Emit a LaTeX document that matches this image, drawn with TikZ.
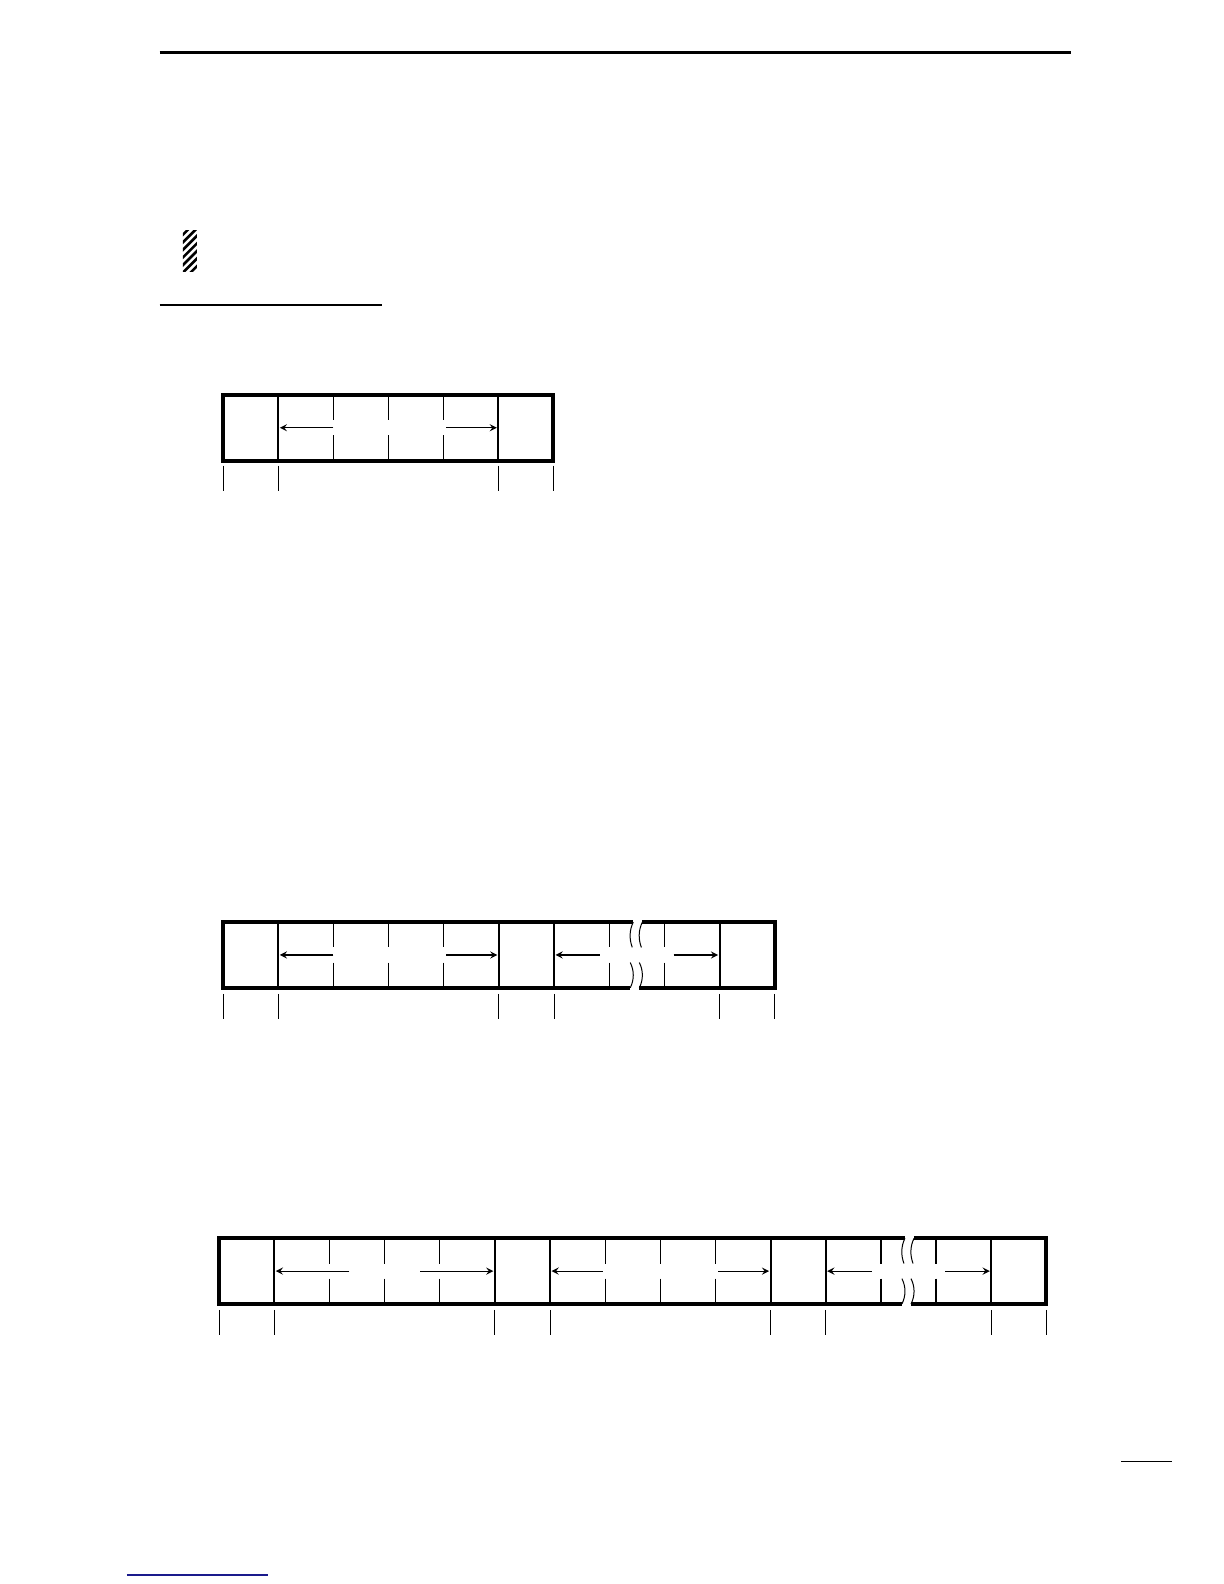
\documentclass[tikz,border=0pt]{standalone}
\usepackage{tikz}
\usetikzlibrary{calc}
\definecolor{link_blue}{HTML}{1A1A8C}

\begin{document}
\begin{tikzpicture}[x=0.505bp,y=-0.505bp,>=stealth,
    frame/.style={line width=2pt},
    sep/.style={line width=1pt},
    cell/.style={line width=0.65pt},
    tick/.style={line width=0.5pt},
    wave/.style={line width=0.5pt},
    arr/.style={->,line width=0.6pt}]
              \useasboundingbox (0,0) rectangle (612bp,-792bp);
              % page head
              \draw[line width=1.2pt] (158,52) -- (1060,52);
              \begin{scope}
                \clip (181,228) rectangle (195,269);
                \foreach \k in {0,...,7}
                  \draw[line width=1.3pt] (170,236+\k*7.5) -- (205,201+\k*7.5);
              \end{scope}
              \draw[line width=0.6pt] (158,302) -- (378,302);
              % first frame
              \coordinate (P1) at (221,391);
              \coordinate (Q1) at (548,456);
              \draw[frame] (P1) rectangle (Q1);
              \draw[sep] (275.5,391) -- (275.5,456);
              \draw[sep] (493.5,391) -- (493.5,456);
              \draw[cell] (330,391) -- (330,416) (330,431) -- (330,456);
              \draw[cell] (384.5,391) -- (384.5,416) (384.5,431) -- (384.5,456);
              \draw[cell] (439,391) -- (439,416) (439,431) -- (439,456);
              \coordinate (L1a) at (330,423.5);
              \coordinate (L1b) at (277,423.5);
              \coordinate (R1a) at (442,423.5);
              \coordinate (R1b) at (492,423.5);
              \draw[arr] (L1a) -- (L1b);
              \draw[arr] (R1a) -- (R1b);
              \draw[tick] (221,461) -- (221,486) (275.5,461) -- (275.5,486) (493.5,461) -- (493.5,486) (548,461) -- (548,486);
              % second frame
              \draw[frame] (627,913) -- (221,913) -- (221,978) -- (624,978);
              \draw[frame] (636,913) -- (767,913) -- (767,978) -- (633,978);
              \draw[wave] (627,913) .. controls (623,921) and (623,930) .. (626,938);
              \draw[wave] (636,913) .. controls (632,921) and (632,930) .. (635,938);
              \draw[wave] (624,953) .. controls (628,961) and (628,970) .. (624,978);
              \draw[wave] (633,953) .. controls (637,961) and (637,970) .. (633,978);
              \draw[sep] (275.6,913) -- (275.6,978);
              \draw[sep] (494,913) -- (494,978);
              \draw[sep] (548.6,913) -- (548.6,978);
              \draw[sep] (712.4,913) -- (712.4,978);
              \draw[cell] (330.2,913) -- (330.2,938) (330.2,953) -- (330.2,978);
              \draw[cell] (384.8,913) -- (384.8,938) (384.8,953) -- (384.8,978);
              \draw[cell] (439.4,913) -- (439.4,938) (439.4,953) -- (439.4,978);
              \draw[cell] (603.2,913) -- (603.2,938) (603.2,953) -- (603.2,978);
              \draw[cell] (657.8,913) -- (657.8,938) (657.8,953) -- (657.8,978);
              \coordinate (L2a) at (330,945.5);
              \coordinate (L2b) at (277,945.5);
              \coordinate (R2a) at (442,945.5);
              \coordinate (R2b) at (492.5,945.5);
              \coordinate (L3a) at (594,945.5);
              \coordinate (L3b) at (550,945.5);
              \coordinate (R3a) at (667,945.5);
              \coordinate (R3b) at (711,945.5);
              \draw[arr] (L2a) -- (L2b);
              \draw[arr] (R2a) -- (R2b);
              \draw[arr] (L3a) -- (L3b);
              \draw[arr] (R3a) -- (R3b);
              \draw[tick] (221,984) -- (221,1009) (275.6,984) -- (275.6,1009) (494,984) -- (494,1009) (548.6,984) -- (548.6,1009) (712.4,984) -- (712.4,1009) (767,984) -- (767,1009);
              % third frame
              \draw[frame] (896,1226) -- (217,1226) -- (217,1291) -- (893,1291);
              \draw[frame] (905,1226) -- (1036,1226) -- (1036,1291) -- (902,1291);
              \draw[wave] (896,1226) .. controls (892,1234) and (892,1243) .. (895,1251);
              \draw[wave] (905,1226) .. controls (901,1234) and (901,1243) .. (904,1251);
              \draw[wave] (893,1266) .. controls (897,1274) and (897,1283) .. (893,1291);
              \draw[wave] (902,1266) .. controls (906,1274) and (906,1283) .. (902,1291);
              \draw[sep] (271.6,1226) -- (271.6,1291);
              \draw[sep] (490,1226) -- (490,1291);
              \draw[sep] (544.6,1226) -- (544.6,1291);
              \draw[sep] (763,1226) -- (763,1291);
              \draw[sep] (817.6,1226) -- (817.6,1291);
              \draw[sep] (981.4,1226) -- (981.4,1291);
              \draw[cell] (326.2,1226) -- (326.2,1251) (326.2,1266) -- (326.2,1291);
              \draw[cell] (380.8,1226) -- (380.8,1251) (380.8,1266) -- (380.8,1291);
              \draw[cell] (435.4,1226) -- (435.4,1251) (435.4,1266) -- (435.4,1291);
              \draw[cell] (599.2,1226) -- (599.2,1251) (599.2,1266) -- (599.2,1291);
              \draw[cell] (653.8,1226) -- (653.8,1251) (653.8,1266) -- (653.8,1291);
              \draw[cell] (708.4,1226) -- (708.4,1251) (708.4,1266) -- (708.4,1291);
              \draw[cell] (872.2,1226) -- (872.2,1251) (872.2,1266) -- (872.2,1291);
              \draw[cell] (926.8,1226) -- (926.8,1251) (926.8,1266) -- (926.8,1291);
              \coordinate (L4a) at (346,1258.5);
              \coordinate (L4b) at (273,1258.5);
              \coordinate (R4a) at (416,1258.5);
              \coordinate (R4b) at (488.5,1258.5);
              \coordinate (L5a) at (597,1258.5);
              \coordinate (L5b) at (546,1258.5);
              \coordinate (R5a) at (711,1258.5);
              \coordinate (R5b) at (761.5,1258.5);
              \coordinate (L6a) at (863,1258.5);
              \coordinate (L6b) at (819,1258.5);
              \coordinate (R6a) at (936,1258.5);
              \coordinate (R6b) at (980,1258.5);
              \draw[arr] (L4a) -- (L4b);
              \draw[arr] (R4a) -- (R4b);
              \draw[arr] (L5a) -- (L5b);
              \draw[arr] (R5a) -- (R5b);
              \draw[arr] (L6a) -- (L6b);
              \draw[arr] (R6a) -- (R6b);
              \draw[tick] (217,1297) -- (217,1322) (271.6,1297) -- (271.6,1322) (490,1297) -- (490,1322) (544.6,1297) -- (544.6,1322) (763,1297) -- (763,1322) (817.6,1297) -- (817.6,1322) (981.4,1297) -- (981.4,1322) (1036,1297) -- (1036,1322);
              % page foot
              \draw[line width=0.6pt] (1110,1447) -- (1160,1447);
              \draw[line width=0.6pt,link_blue] (125.7,1559.4) -- (265.3,1559.4);
          \end{tikzpicture}
\end{document}
